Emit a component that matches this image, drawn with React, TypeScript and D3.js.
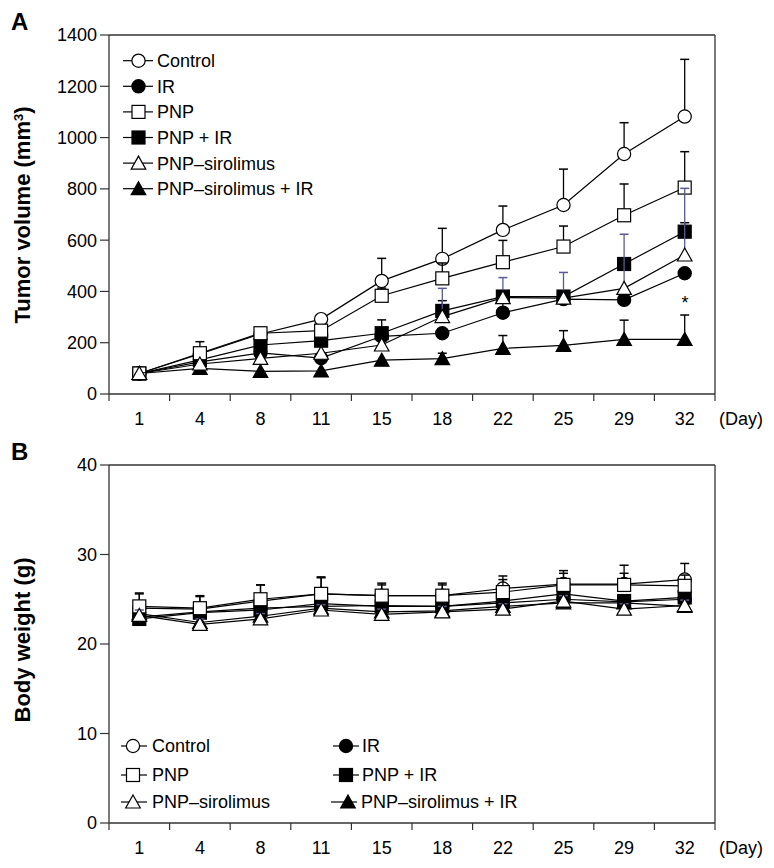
import React from "react";
import * as d3 from "d3";

const days = ["1", "4", "8", "11", "15", "18", "22", "25", "29", "32"];

// Panel A: tumor volume (mm3)
const tumorControl = [80, 156, 234, 292, 441, 527, 640, 737, 936, 1082];
const tumorControlErr = [0, 48, 10, 8, 88, 119, 93, 140, 122, 223];
const tumorIR = [80, 125, 160, 140, 225, 237, 317, 370, 367, 471];
const tumorIRErr = [0, 0, 0, 0, 0, 0, 40, 20, 0, 0];
const tumorPNP = [80, 159, 237, 247, 383, 451, 514, 575, 697, 805];
const tumorPNPErr = [0, 0, 0, 0, 30, 60, 85, 80, 122, 140];
const tumorPNPIR = [80, 133, 191, 208, 237, 324, 380, 380, 507, 633];
const tumorPNPIRErr = [0, 0, 0, 0, 52, 40, 0, 0, 0, 35];
const tumorSir = [80, 117, 139, 159, 191, 302, 376, 374, 412, 542];
const tumorSirErr = [0, 0, 0, 0, 0, 110, 78, 100, 211, 260];
const tumorSirIR = [80, 100, 88, 90, 132, 138, 178, 190, 213, 213];
const tumorSirIRErr = [0, 0, 0, 0, 0, 21, 50, 57, 75, 95];

// Panel B: body weight (g)
const bwControl = [24.0, 23.9, 24.8, 25.6, 25.4, 25.4, 26.2, 26.7, 26.7, 27.2];
const bwControlErr = [1.6, 1.5, 1.8, 1.8, 1.4, 1.4, 1.4, 1.5, 2.1, 1.8];
const bwIR = [23.0, 23.6, 24.0, 24.2, 24.3, 24.2, 24.6, 25.0, 24.7, 25.0];
const bwIRErr = [0.6, 0.6, 0.6, 0.6, 0.6, 0.6, 0.6, 0.6, 0.6, 0.6];
const bwPNP = [24.2, 24.0, 25.0, 25.6, 25.4, 25.4, 25.8, 26.6, 26.6, 26.5];
const bwPNPErr = [1.5, 1.3, 1.6, 1.9, 1.2, 1.2, 1.4, 1.3, 1.3, 1.2];
const bwPNPIR = [22.8, 23.5, 23.8, 24.5, 24.2, 24.2, 24.8, 25.6, 24.8, 25.2];
const bwPNPIRErr = [0.6, 0.6, 0.6, 0.6, 0.6, 0.6, 0.6, 0.6, 0.6, 0.6];
const bwSir = [23.2, 22.2, 22.8, 23.8, 23.3, 23.6, 23.9, 24.8, 23.9, 24.3];
const bwSirErr = [0.6, 0.6, 0.6, 0.6, 0.6, 0.6, 0.6, 0.6, 0.6, 0.6];
const bwSirIR = [23.4, 22.4, 23.1, 24.0, 23.6, 23.7, 24.2, 24.6, 24.6, 24.2];
const bwSirIRErr = [0.6, 0.6, 0.6, 0.6, 0.6, 0.6, 0.6, 0.6, 0.6, 0.6];

const tumorTicks = [0, 200, 400, 600, 800, 1000, 1200, 1400];
const bwTicks = [0, 10, 20, 30, 40];

const seriesNames = ["Control", "IR", "PNP", "PNP + IR", "PNP–sirolimus", "PNP–sirolimus + IR"];
const seriesShapes = ["circle", "circle", "square", "square", "triangle", "triangle"];
const seriesFilled = [false, true, false, true, false, true];
const errColors = ["#000", "#000", "#000", "#000", "#5a5a96", "#000"];

const tumorSeries = [
  [tumorControl, tumorControlErr],
  [tumorIR, tumorIRErr],
  [tumorPNP, tumorPNPErr],
  [tumorPNPIR, tumorPNPIRErr],
  [tumorSir, tumorSirErr],
  [tumorSirIR, tumorSirIRErr],
];
const bwSeries = [
  [bwControl, bwControlErr],
  [bwIR, bwIRErr],
  [bwPNP, bwPNPErr],
  [bwPNPIR, bwPNPIRErr],
  [bwSir, bwSirErr],
  [bwSirIR, bwSirIRErr],
];

// drawing order (index into series)
const drawOrder = [0, 1, 3, 5, 2, 4];

const FONT = "'Liberation Sans', Arial, Helvetica, sans-serif";
const AX = "#333";
const FS = 18;

function Marker({ shape, filled, x, y }: { shape: string; filled: boolean; x: number; y: number }) {
  const fill = filled ? "#000" : "#fff";
  if (shape === "circle") return <circle cx={x} cy={y} r={6.6} fill={fill} stroke="#000" strokeWidth={1.2} />;
  if (shape === "square") return <rect x={x - 6.5} y={y - 6.5} width={13} height={13} fill={fill} stroke="#000" strokeWidth={1.2} />;
  const p = [[x, y - 7], [x + 7.3, y + 6], [x - 7.3, y + 6]];
  return <polygon points={p.map((q) => q.join(",")).join(" ")} fill={fill} stroke="#000" strokeWidth={1.2} />;
}

function Panel({
  label, yTop, yBottom, domainMax, ticks, series, title, titleY,
}: {
  label: string; yTop: number; yBottom: number; domainMax: number; ticks: number[];
  series: number[][][]; title: React.ReactNode; titleY: number;
}) {
  const x = d3.scaleBand<string>().domain(days).range([109, 715]);
  const y = d3.scaleLinear().domain([0, domainMax]).range([yBottom, yTop]);
  const cx = (i: number) => (x(days[i]) as number) + x.bandwidth() / 2;
  const line = d3.line<number>().x((_, i) => cx(i)).y((v) => y(v));
  const bounds = days.map((d) => x(d) as number).concat([715]);
  return (
    <g>
      <text x={11} y={yTop - 5} fontFamily={FONT} fontWeight="bold" fontSize={24}>{label}</text>
      {/* frame */}
      <line x1={109} x2={715} y1={yTop} y2={yTop} stroke={AX} strokeWidth={1.3} />
      <line x1={715} x2={715} y1={yTop} y2={yBottom} stroke={AX} strokeWidth={1.3} />
      <line x1={109} x2={109} y1={yTop} y2={yBottom} stroke={AX} strokeWidth={1.3} />
      <line x1={109} x2={715} y1={yBottom} y2={yBottom} stroke={AX} strokeWidth={1.3} />
      {ticks.map((t) => (
        <g key={t}>
          <line x1={100} x2={109} y1={y(t)} y2={y(t)} stroke={AX} strokeWidth={1.2} />
          <text x={97} y={y(t)} dy="0.36em" textAnchor="end" fontFamily={FONT} fontSize={FS}>{t}</text>
        </g>
      ))}
      {bounds.map((b, i) => (
        <line key={i} x1={b} x2={b} y1={yBottom} y2={yBottom + 7} stroke={AX} strokeWidth={1.2} />
      ))}
      {days.map((d, i) => (
        <text key={d} x={cx(i)} y={yBottom + 30.5} textAnchor="middle" fontFamily={FONT} fontSize={FS}>{d}</text>
      ))}
      <text x={719} y={yBottom + 30.5} fontFamily={FONT} fontSize={FS}>(Day)</text>
      <text transform={`translate(30,${titleY}) rotate(-90)`} textAnchor="middle" fontFamily={FONT} fontWeight="bold" fontSize={22}>{title}</text>
      {/* series */}
      {drawOrder.map((si) => {
        const [vals, errs] = series[si];
        return (
          <g key={si}>
            {vals.map((v, i) =>
              errs[i] > 0 ? (
                <g key={i}>
                  <line x1={cx(i)} x2={cx(i)} y1={y(v)} y2={y(v + errs[i])} stroke={errColors[si]} strokeWidth={1.3} />
                  <line x1={cx(i) - 4.5} x2={cx(i) + 4.5} y1={y(v + errs[i])} y2={y(v + errs[i])} stroke={errColors[si]} strokeWidth={1.5} />
                </g>
              ) : null
            )}
            <path d={line(vals) as string} fill="none" stroke="#000" strokeWidth={1.2} />
            {vals.map((v, i) => (
              <Marker key={i} shape={seriesShapes[si]} filled={seriesFilled[si]} x={cx(i)} y={y(v)} />
            ))}
          </g>
        );
      })}
    </g>
  );
}

export default function App() {
  const legendARows = [60.7, 86.3, 111.9, 137.5, 163.1, 188.7];
  const legendBPos = [
    [121, 133, 152, 746],
    [333, 346, 362, 746],
    [121, 133, 152, 775],
    [333, 346, 362, 775],
    [121, 133, 152, 802],
    [331, 348, 361, 802],
  ];
  return (
    <svg width={774} height={868} style={{ position: "absolute", left: 0, top: 0, background: "#fff" }}>
      <rect width={774} height={868} fill="#fff" />
      <Panel
        label="A" yTop={35} yBottom={394} domainMax={1400} ticks={tumorTicks} series={tumorSeries}
        title={<>Tumor volume (mm<tspan fontSize={13} dy={-7}>3</tspan><tspan dy={7}>)</tspan></>}
        titleY={215}
      />
      <text x={685} y={309} textAnchor="middle" fontFamily={FONT} fontSize={18}>*</text>
      <Panel
        label="B" yTop={465} yBottom={823} domainMax={40} ticks={bwTicks} series={bwSeries}
        title="Body weight (g)" titleY={640}
      />
      {/* legend A */}
      {seriesNames.map((n, i) => (
        <g key={n}>
          <line x1={123} x2={153} y1={legendARows[i]} y2={legendARows[i]} stroke="#000" strokeWidth={1.2} />
          <Marker shape={seriesShapes[i]} filled={seriesFilled[i]} x={138.5} y={legendARows[i]} />
          <text x={157} y={legendARows[i]} dy="0.36em" fontFamily={FONT} fontSize={FS}>{n}</text>
        </g>
      ))}
      {/* legend B */}
      {seriesNames.map((n, i) => {
        const [lx, mx, tx, ly] = legendBPos[i];
        return (
          <g key={"b" + n}>
            <line x1={lx} x2={lx + 26} y1={ly} y2={ly} stroke="#000" strokeWidth={1.2} />
            <Marker shape={seriesShapes[i]} filled={seriesFilled[i]} x={mx} y={ly} />
            <text x={tx} y={ly} dy="0.36em" fontFamily={FONT} fontSize={FS}>{n}</text>
          </g>
        );
      })}
    </svg>
  );
}
